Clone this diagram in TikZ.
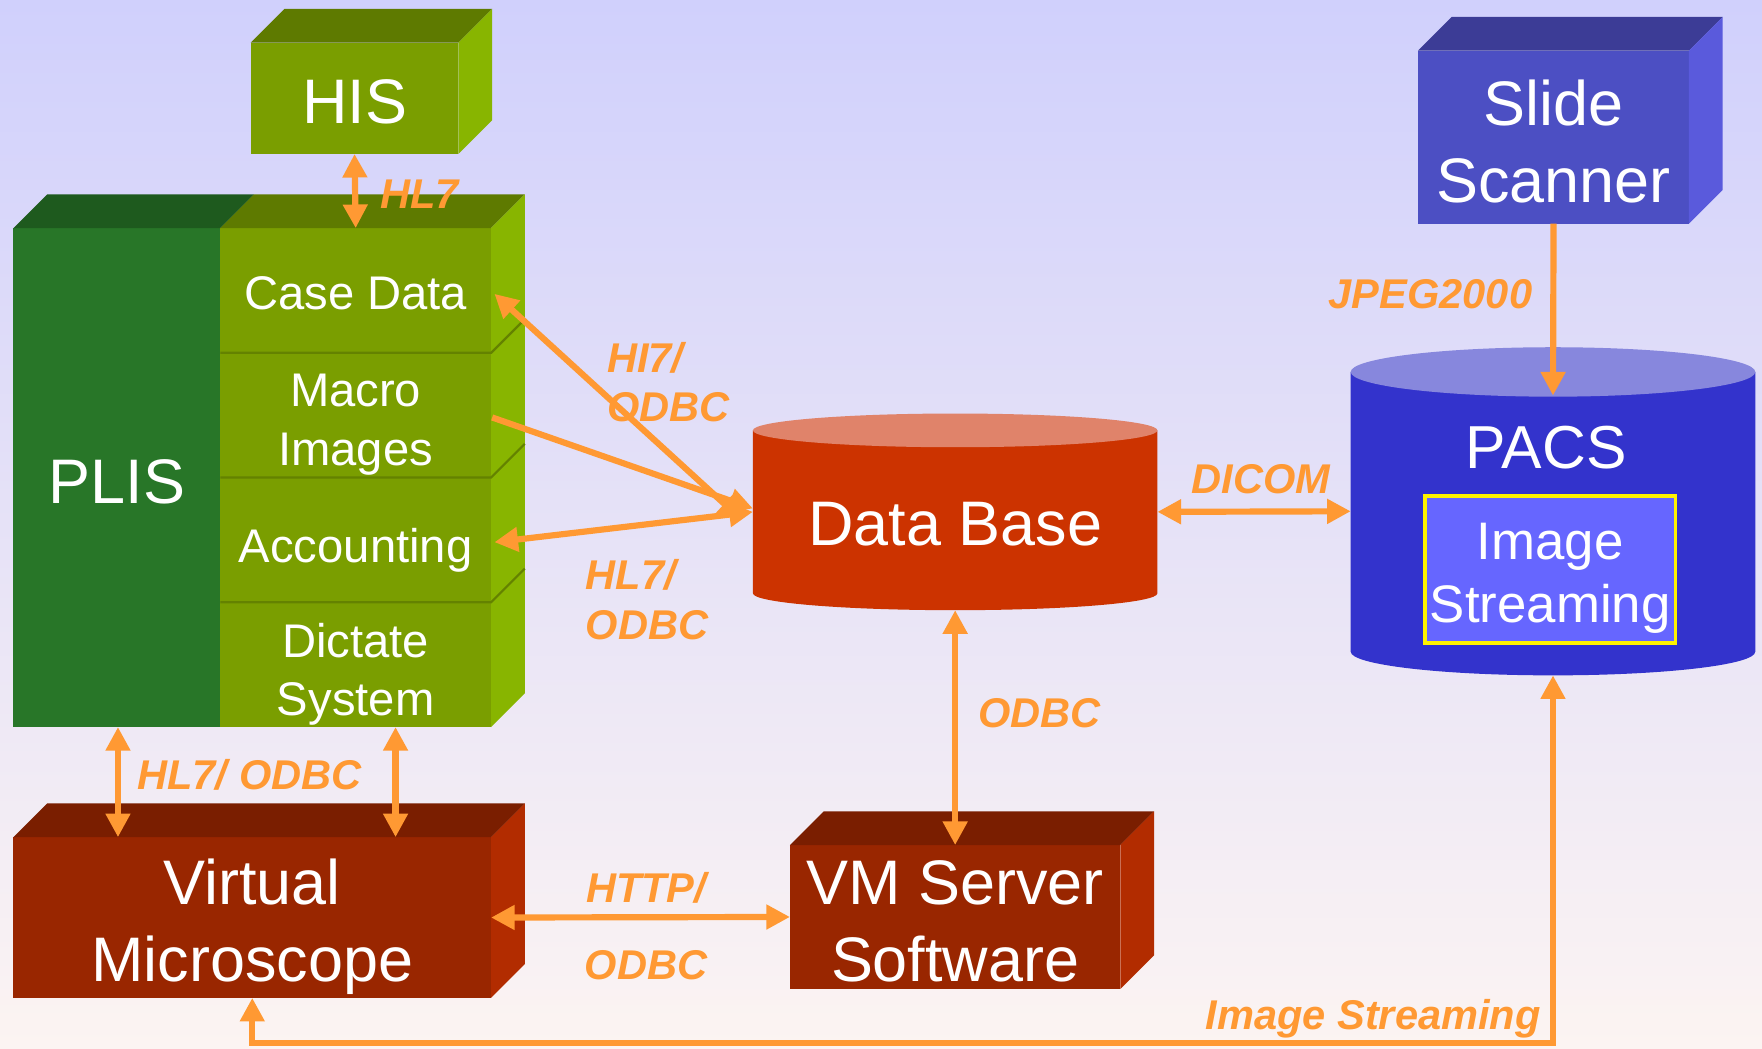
\documentclass[tikz,border=0pt]{standalone}
\usepackage{fontspec}
\setmainfont{Liberation Sans}
\usetikzlibrary{arrows.meta}
\definecolor{bgtop}{RGB}{208,208,252}
\definecolor{bgbot}{RGB}{252,244,242}
\definecolor{arr}{RGB}{255,153,51}
\definecolor{hisF}{RGB}{122,158,0}
\definecolor{hisT}{RGB}{94,122,0}
\definecolor{hisR}{RGB}{136,181,0}
\definecolor{plisF}{RGB}{40,118,40}
\definecolor{plisT}{RGB}{30,90,30}
\definecolor{divc}{RGB}{100,130,0}
\definecolor{scF}{RGB}{76,79,195}
\definecolor{scT}{RGB}{60,60,150}
\definecolor{scR}{RGB}{90,90,220}
\definecolor{pacB}{RGB}{51,51,204}
\definecolor{pacT}{RGB}{135,135,221}
\definecolor{isF}{RGB}{102,102,255}
\definecolor{dbB}{RGB}{204,51,0}
\definecolor{dbT}{RGB}{224,131,106}
\definecolor{vmF}{RGB}{153,38,0}
\definecolor{vmT}{RGB}{122,30,0}
\definecolor{vmR}{RGB}{178,44,0}
\newcommand\cubesides[3]{%
  \fill[#2] (#1.north west) -- ++(30,-30) -- ([shift={(30,-30)}]#1.north east) -- (#1.north east) -- cycle;
  \fill[#3] (#1.north east) -- ++(30,-30) -- ([shift={(30,-30)}]#1.south east) -- (#1.south east) -- cycle;}
\begin{document}
\begin{tikzpicture}[x=1pt,y=-1pt,
  face/.style={inner sep=0pt, outer sep=0pt},
  wt/.style={inner sep=0pt, text=white, anchor=base},
  bigtext/.style={wt, font=\fontsize{56}{68}\selectfont},
  midtext/.style={wt, font=\fontsize{42}{52}\selectfont},
  lbl/.style={text=arr, font=\fontsize{37}{44}\selectfont\bfseries\itshape, inner sep=0pt},
  tipc/.tip={Triangle[length=21pt,width=21pt]},
  conn/.style={draw=arr, line width=5.5pt, tipc-tipc},
  connr/.style={draw=arr, line width=5.5pt, -tipc},
]
\useasboundingbox (0,0) rectangle (1568,933);
\shade[top color=bgtop, bottom color=bgbot] (0,0) rectangle (1568,933);

% HIS
\node[face, fill=hisF, minimum width=185pt, minimum height=99pt] (his) at (315.5,87.5) {};
\cubesides{his}{hisT}{hisR}
\node[bigtext] (this) at (315.5,110) {HIS};

% PLIS block
\node[face, fill=plisF, minimum width=184pt, minimum height=444pt] (plis) at (104,425) {};
\node[face, fill=hisF, minimum width=241pt, minimum height=111pt] (case) at (316.5,258.5) {};
\node[face, fill=hisF, minimum width=241pt, minimum height=111pt] (macro) at (316.5,369.5) {};
\node[face, fill=hisF, minimum width=241pt, minimum height=111pt] (acct) at (316.5,480.5) {};
\node[face, fill=hisF, minimum width=241pt, minimum height=111pt] (dict) at (316.5,591.5) {};
\fill[plisT] (plis.north west) -- ++(30,-30) -- ([shift={(30,-30)}]plis.north east) -- (plis.north east) -- cycle;
\fill[hisT] (case.north west) -- ++(30,-30) -- ([shift={(30,-30)}]case.north east) -- (case.north east) -- cycle;
\fill[hisR] (case.north east) -- ++(30,-30) -- ([shift={(30,-30)}]dict.south east) -- (dict.south east) -- cycle;
\foreach \s in {macro,acct,dict}{
  \draw[divc, line width=2pt] (\s.north west) -- (\s.north east) -- ++(30,-30);
}
\node[bigtext] (tplis) at (104,448) {PLIS};
\node[midtext] (tcase) at (316.5,275) {Case Data};
\node[midtext] (tmacro1) at (316.5,362) {Macro};
\node[midtext] (tmacro2) at (316.5,414) {Images};
\node[midtext] (tacct) at (316.5,501) {Accounting};
\node[midtext] (tdict1) at (316.5,585) {Dictate};
\node[midtext] (tdict2) at (316.5,637) {System};

% Slide scanner
\node[face, fill=scF, minimum width=241pt, minimum height=154pt] (scan) at (1382.5,122) {};
\cubesides{scan}{scT}{scR}
\node[bigtext] (tscan1) at (1382.5,112) {Slide};
\node[bigtext] (tscan2) at (1382.5,180) {Scanner};

% PACS cylinder
\fill[pacB] (1202,331) -- (1202,580) arc[start angle=180, end angle=360, x radius=180pt, y radius=21pt] -- (1562,331) -- cycle;
\fill[pacT] (1382,331) ellipse[x radius=180pt, y radius=22pt];
\node[face, minimum width=360pt, minimum height=292pt] (pacs) at (1382,455) {};
\node[wt, font=\fontsize{54}{64}\selectfont] (tpacs) at (1376,417) {PACS};
\node[face, fill=isF, draw=yellow, line width=3.5pt, minimum width=223pt, minimum height=131pt] (istream) at (1379.5,506.5) {};
\node[wt, font=\fontsize{47}{56}\selectfont] (tis1) at (1379.5,498) {Image};
\node[wt, font=\fontsize{47}{56}\selectfont] (tis2) at (1379.5,554) {Streaming};

% Data Base cylinder
\fill[dbB] (670,383) -- (670,528) arc[start angle=180, end angle=360, x radius=180pt, y radius=15pt] -- (1030,383) -- cycle;
\fill[dbT] (850,383) ellipse[x radius=180pt, y radius=15pt];
\node[face, minimum width=360pt, minimum height=175pt] (db) at (850,455.5) {};
\node[bigtext] (tdb) at (850,485) {Data Base};

% Virtual Microscope
\node[face, fill=vmF, minimum width=425pt, minimum height=143pt] (vm) at (224.5,816.5) {};
\cubesides{vm}{vmT}{vmR}
\node[bigtext] (tvm1) at (224.5,805) {Virtual};
\node[bigtext] (tvm2) at (224.5,873) {Microscope};

% VM Server
\node[face, fill=vmF, minimum width=294pt, minimum height=128pt] (vms) at (850,816) {};
\cubesides{vms}{vmT}{vmR}
\node[bigtext] (tvms1) at (850,805) {VM Server};
\node[bigtext] (tvms2) at (850,873) {Software};

% connectors
\draw[conn] (his.south) -- (case.north);
\draw[conn] ([shift={(3,3)}]case.east) -- ([shift={(-10,7)}]db.west);
\draw[connr] ([shift={(1,2)}]macro.east) -- ([yshift=3pt]db.west);
\draw[conn] ([shift={(3,2)}]acct.east) -- ([yshift=0pt]db.west);
\draw[conn] (db.east) -- (pacs.west);
\draw[connr] (scan.south) -- ([yshift=-43pt]pacs.north);
\draw[conn] (db.south) -- (vms.north);
\draw[conn] (vm.east) -- (vms.west);
\draw[conn] ([xshift=1pt]plis.south) -- ([xshift=1pt]plis.south |- vm.north);
\draw[conn] ([xshift=35.5pt]dict.south) -- ([xshift=35.5pt]dict.south |- vm.north);
\coordinate (sbot) at (1382,928);
\draw[conn] (pacs.south) -- (sbot) -| (vm.south);

% labels
\node[lbl, anchor=base west] (l1) at (338,185.5) {HL7};
\node[lbl, anchor=base west] (l2a) at (540,331.5) {HI7/};
\node[lbl, anchor=base west] (l2b) at (540,375.5) {ODBC};
\node[lbl, anchor=base west] (l3a) at (521,524.5) {HL7/};
\node[lbl, anchor=base west] (l3b) at (521,569.5) {ODBC};
\node[lbl, anchor=base] (l4) at (1122,439.5) {DICOM};
\node[lbl, anchor=base] (l5) at (1273,274.5) {JPEG2000};
\node[lbl, anchor=base] (l6) at (925,647.5) {ODBC};
\node[lbl, anchor=base] (l7) at (222,702.5) {HL7/ ODBC};
\node[lbl, anchor=base] (l8a) at (575,803.5) {HTTP/};
\node[lbl, anchor=base] (l8b) at (575,871.5) {ODBC};
\node[lbl, anchor=base] (l9) at (1222,916.5) {Image Streaming};
\end{tikzpicture}
\end{document}
